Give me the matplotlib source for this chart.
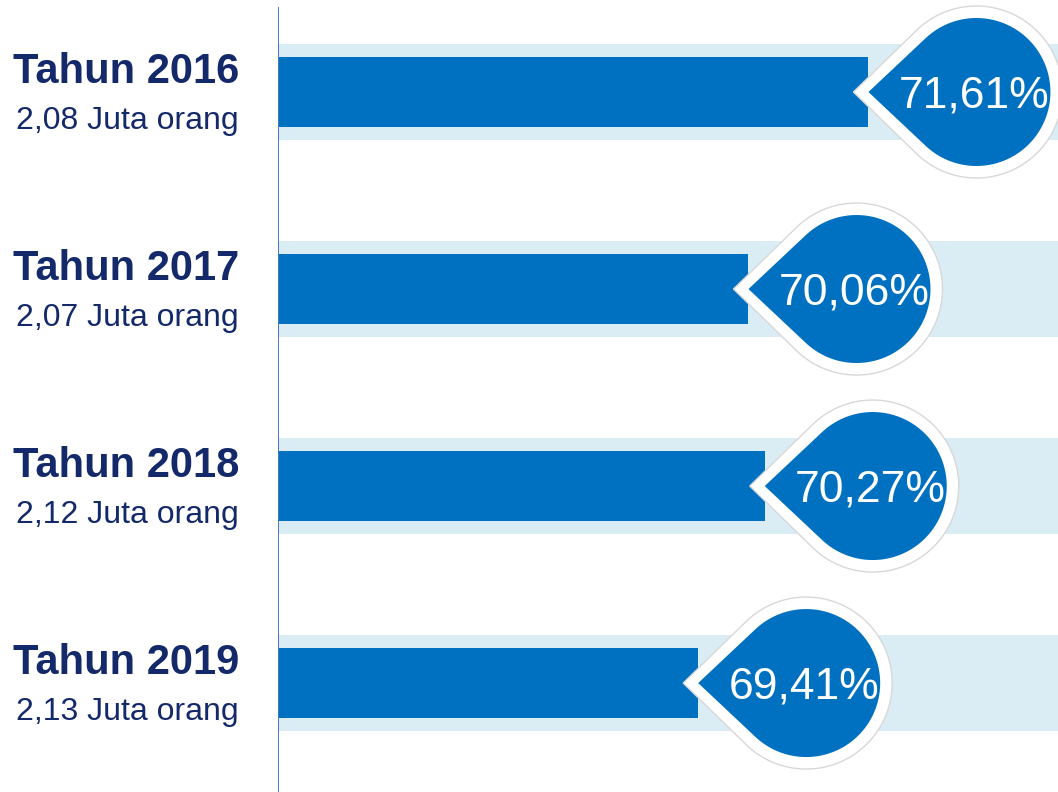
import numpy as np
import matplotlib
matplotlib.use("Agg")
import matplotlib.pyplot as plt
from matplotlib.patches import Polygon
from matplotlib.transforms import ScaledTranslation

plt.rcParams['font.family'] = ['Liberation Sans', 'DejaVu Sans']

# data
tahun = ['Tahun 2016', 'Tahun 2017', 'Tahun 2018', 'Tahun 2019']
juta = ['2,08 Juta orang', '2,07 Juta orang', '2,12 Juta orang', '2,13 Juta orang']
persen = [71.61, 70.06, 70.27, 69.41]

navy = '#14296a'
biru = '#0070c0'
muda = '#daedf4'

x0, x1 = 63.98, 74.06

fig = plt.figure(figsize=(10.58, 7.92), dpi=100)
ax = fig.add_axes([278 / 1058, 0, 780 / 1058, 1])
ax.set_xlim(x0, x1)
ax.set_ylim(3.553, -0.467)
ax.axis('off')

y = np.arange(len(persen))
ax.barh(y, x1 - x0, left=x0, height=0.487, color=muda, zorder=1)
ax.barh(y, np.array(persen) - x0, left=x0, height=0.355, color=biru, zorder=2)
ax.axvline(x0, ymin=0, ymax=0.99, color='#4a78c2', lw=1.4, zorder=3)


def tetes(d, r):
    # ujung di (0,0), pusat lingkaran di (d,0), satuan inci
    a = np.degrees(np.arccos(r / d))
    t = np.radians(np.linspace(a - 180, 180 - a, 120))
    pts = np.column_stack([d + r * np.cos(t), r * np.sin(t)])
    return np.vstack([[0, 0], pts])


for i, v in enumerate(persen):
    tr = fig.dpi_scale_trans + ScaledTranslation(v, i, ax.transData)
    luar = Polygon(tetes(1.23, 0.86) + [-0.15, 0], closed=True, transform=tr,
                   facecolor='white', edgecolor='#d8d8d8', lw=1.0, zorder=4, clip_on=False)
    dalam = Polygon(tetes(1.08, 0.74), closed=True, transform=tr,
                    facecolor=biru, edgecolor='none', zorder=5, clip_on=False)
    ax.add_patch(luar)
    ax.add_patch(dalam)
    lbl = ('%.2f%%' % v).replace('.', ',')
    ax.text(1.06, -0.04, lbl, transform=tr, color='white', fontsize=32,
            ha='center', va='center', zorder=6)

    ax.annotate(tahun[i], xy=(0, i), xycoords=('axes fraction', 'data'),
                xytext=(-39, 9), textcoords='offset pixels', ha='right', va='baseline',
                fontsize=30, fontweight='bold', color=navy, annotation_clip=False)
    ax.annotate(juta[i], xy=(0, i), xycoords=('axes fraction', 'data'),
                xytext=(-39, -37), textcoords='offset pixels', ha='right', va='baseline',
                fontsize=23, color=navy, annotation_clip=False)

fig.savefig('out.png', dpi=100)
